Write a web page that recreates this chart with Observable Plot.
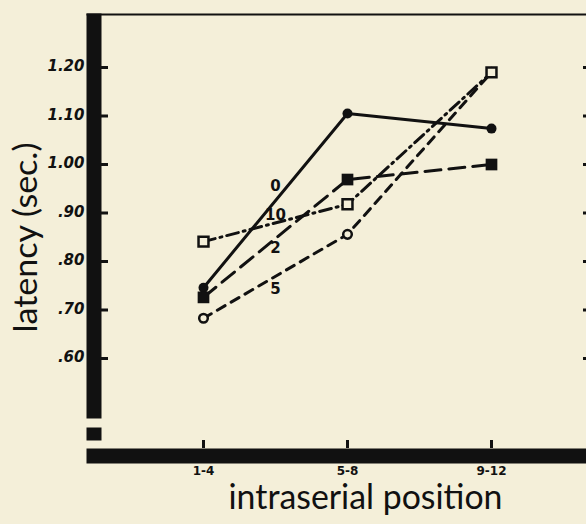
<!DOCTYPE html>
<html><head><meta charset="utf-8">
<script src="https://cdn.jsdelivr.net/npm/d3@7"></script>
<script src="https://cdn.jsdelivr.net/npm/@observablehq/plot@0.6"></script>
<style>
html,body{margin:0;padding:0;background:#f4efd9;}
svg{display:block;}
</style></head><body><div id="chart"></div>
<script>
// ---- data ----
const positions = ["1-4", "5-8", "9-12"];
const groups = ["0", "2", "5", "10"];
const latency0 = [0.746, 1.105, 1.074];
const latency2 = [0.726, 0.969, 1.000];
const latency5 = [0.683, 0.856, 1.190];
const latency10 = [0.841, 0.918, 1.190];
const yTicks = [0.6, 0.7, 0.8, 0.9, 1.0, 1.1, 1.2];
const yTickLabels = [".60", ".70", ".80", ".90", "1.00", "1.10", "1.20"];
const curveLabels = ["0", "10", "2", "5"];
const curveLabelPos = [0.5, 0.5, 0.5, 0.5];
const curveLabelLatency = [0.955, 0.895, 0.827, 0.742];
const xTitle = "intraserial position";
const yTitle = "latency (sec.)";

// ---- table ----
const series = [latency0, latency2, latency5, latency10];
const rows = groups.flatMap((g, gi) => series[gi].map((v, i) => ({group: g, pos: i, latency: v})));
const byGroup = g => rows.filter(r => r.group === g);
const labels = curveLabels.map((t, i) => ({t, pos: curveLabelPos[i], latency: curveLabelLatency[i]}));

const ink = "#111";
const bg = "#f4efd9";

const chart = Plot.plot({
  width: 586, height: 524,
  marginLeft: 86, marginTop: 13, marginRight: 0, marginBottom: 61,
  style: {background: "transparent", color: ink},
  x: {domain: [0, 2], range: [203, 491], axis: null},
  y: {domain: [0.6, 1.2], range: [358, 67], axis: null},
  marks: [
    // frame pieces
    Plot.frame({fill: ink, stroke: null, insetRight: 485, insetBottom: 45}),
    Plot.frame({fill: ink, stroke: null, insetRight: 485, insetTop: 414, insetBottom: 23}),
    Plot.frame({fill: ink, stroke: null, insetTop: 435}),
    Plot.frame({fill: ink, stroke: null, insetBottom: 448}),
    // ticks
    Plot.ruleY(yTicks, {y: d => d, insetLeft: 15, insetRight: 478, stroke: ink, strokeWidth: 3}),
    Plot.ruleY(yTicks, {y: d => d, insetLeft: 497, stroke: ink, strokeWidth: 3}),
    Plot.ruleX(positions, {x: (d, i) => i, insetTop: 427, insetBottom: 15, stroke: ink, strokeWidth: 3}),
    // tick labels
    Plot.text(yTicks, {y: d => d, text: (d, i) => yTickLabels[i], frameAnchor: "left", textAnchor: "end", dx: -2, dy: -1,
      fontFamily: "DejaVu Sans", fontWeight: "bold", fontStyle: "italic", fontSize: 15, fill: ink}),
    Plot.text(positions, {x: (d, i) => i, text: d => d, frameAnchor: "bottom", dy: 11,
      fontFamily: "DejaVu Sans", fontWeight: "bold", fontSize: 12, fill: ink}),
    // titles
    Plot.text([xTitle], {text: d => d, frameAnchor: "bottom", textAnchor: "start", dx: -108, dy: 45,
      fontFamily: "Lato", fontSize: 34, fill: ink, className: "xtitle"}),
    Plot.text([yTitle], {text: d => d, frameAnchor: "left", textAnchor: "start", rotate: -90, dx: -60, dy: 94,
      fontFamily: "Lato", fontSize: 33, fill: ink, className: "ytitle"}),
    // lines
    Plot.line(byGroup("0"), {x: "pos", y: "latency", stroke: ink, strokeWidth: 3}),
    Plot.line(byGroup("2"), {x: "pos", y: "latency", stroke: ink, strokeWidth: 3, strokeDasharray: "16,8"}),
    Plot.line(byGroup("5"), {x: "pos", y: "latency", stroke: ink, strokeWidth: 3, strokeDasharray: "9,7"}),
    Plot.line(byGroup("10"), {x: "pos", y: "latency", stroke: ink, strokeWidth: 3, strokeDasharray: "12,5,2,5"}),
    // markers
    Plot.dot(byGroup("0"), {x: "pos", y: "latency", r: 5, fill: ink, stroke: null}),
    Plot.dot(byGroup("2"), {x: "pos", y: "latency", r: 6.6, symbol: "square", fill: ink, stroke: null}),
    Plot.dot(byGroup("5"), {x: "pos", y: "latency", r: 4.3, fill: bg, stroke: ink, strokeWidth: 2.5}),
    Plot.dot(byGroup("10"), {x: "pos", y: "latency", r: 5.6, symbol: "square", fill: bg, stroke: ink, strokeWidth: 2.5}),
    // curve labels
    Plot.text(labels, {x: "pos", y: "latency", text: "t",
      fontFamily: "DejaVu Sans", fontWeight: "bold", fontSize: 15, fill: ink})
  ]
});
document.getElementById("chart").appendChild(chart);
// fit the hand-lettered titles to their widths in the original
const fit = (cls, len) => {
  chart.querySelectorAll("g." + cls + " text").forEach(t => {
    t.setAttribute("textLength", len);
    t.setAttribute("lengthAdjust", "spacingAndGlyphs");
  });
};
fit("xtitle", 274);
fit("ytitle", 190);
</script>
</body></html>
